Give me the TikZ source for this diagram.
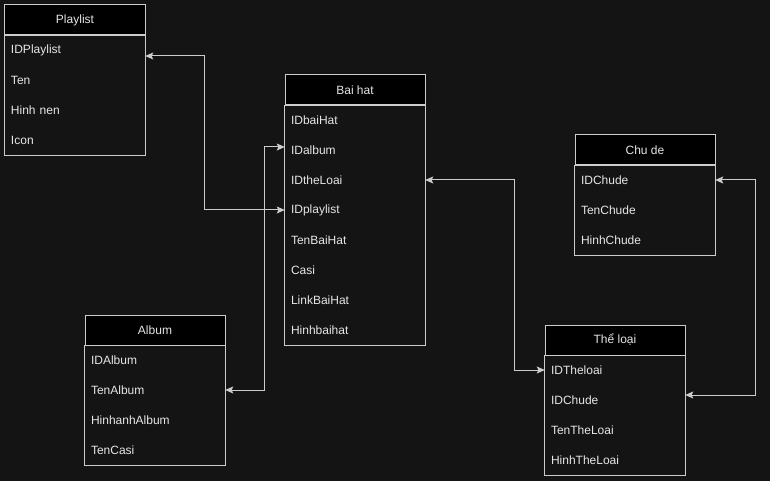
\documentclass[tikz,border=0pt]{standalone}
\usepackage{fontspec}
\setmainfont{Liberation Sans}
\usetikzlibrary{arrows.meta}
\definecolor{canvas}{HTML}{141414}
\definecolor{edge}{HTML}{CCCCCC}
\definecolor{ink}{HTML}{E6E6E6}
\begin{document}
\begin{tikzpicture}[x=1bp,y=-1bp,
  font=\fontsize{12bp}{14bp}\selectfont,
  hdr/.style={draw=edge, line width=1bp, fill=black, text=ink,
    minimum width=140bp, minimum height=30bp, inner sep=0pt, anchor=center},
  fld/.style={text=ink, minimum width=140bp, minimum height=30bp,
    text width=128bp, inner xsep=6bp, inner ysep=0pt, align=left},
  frame/.style={draw=edge, line width=1bp},
  link/.style={draw=edge, line width=1bp,
    {Stealth[length=8bp,width=7bp,inset=1.5bp]}-{Stealth[length=8bp,width=7bp,inset=1.5bp]}}
]
\useasboundingbox[fill=canvas] (0,0) rectangle (770,481);

% Playlist
\node[hdr] (pl) at (75,20) {Playlist};
\node[fld] (pl1) at (75,50) {IDPlaylist};
\node[fld] (pl2) at (75,80) {Ten};
\node[fld] (pl3) at (75,110) {Hinh nen};
\node[fld] (pl4) at (75,140) {Icon};
\draw[frame] (pl.south west) rectangle (pl4.south east);

% Bai hat
\node[hdr] (bh) at (355,90) {Bai hat};
\node[fld] (bh1) at (355,120) {IDbaiHat};
\node[fld] (bh2) at (355,150) {IDalbum};
\node[fld] (bh3) at (355,180) {IDtheLoai};
\node[fld] (bh4) at (355,210) {IDplaylist};
\node[fld] (bh5) at (355,240) {TenBaiHat};
\node[fld] (bh6) at (355,270) {Casi};
\node[fld] (bh7) at (355,300) {LinkBaiHat};
\node[fld] (bh8) at (355,330) {Hinhbaihat};
\draw[frame] (bh.south west) rectangle (bh8.south east);

% Chu de
\node[hdr] (cd) at (645,150) {Chu de};
\node[fld] (cd1) at (645,180) {IDChude};
\node[fld] (cd2) at (645,210) {TenChude};
\node[fld] (cd3) at (645,240) {HinhChude};
\draw[frame] (cd.south west) rectangle (cd3.south east);

% Album
\node[hdr] (al) at (155,330) {Album};
\node[fld] (al1) at (155,360) {IDAlbum};
\node[fld] (al2) at (155,390) {TenAlbum};
\node[fld] (al3) at (155,420) {HinhanhAlbum};
\node[fld] (al4) at (155,450) {TenCasi};
\draw[frame] (al.south west) rectangle (al4.south east);

% The loai
\node[hdr] (tl) at (615,340) {Thể loại};
\node[fld] (tl1) at (615,370) {IDTheloai};
\node[fld] (tl2) at (615,400) {IDChude};
\node[fld] (tl3) at (615,430) {TenTheLoai};
\node[fld] (tl4) at (615,460) {HinhTheLoai};
\draw[frame] (tl.south west) rectangle (tl4.south east);

% relations
\coordinate (plk) at ([yshift=-6bp]pl1.east);
\coordinate (bhk) at ([yshift=3bp]bh2.west);
\coordinate (tlk) at ([yshift=5bp]tl2.east);
\draw[link] (plk) -| ([xshift=-80bp]bh4.west) -- (bh4.west);
\draw[link] (al2.east) -| ([xshift=-20bp]bhk) -- (bhk);
\draw[link] (bh3.east) -| ([xshift=-30bp]tl1.west) -- (tl1.west);
\draw[link] (cd1.east) -| ([xshift=70bp]tlk) -- (tlk);
\end{tikzpicture}
\end{document}
